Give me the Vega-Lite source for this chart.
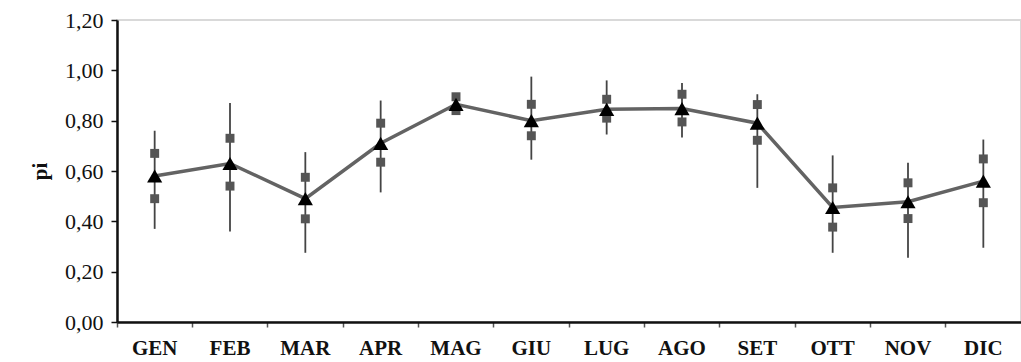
{
  "$schema": "https://vega.github.io/schema/vega-lite/v6.json",
  "autosize": "none",
  "width": 904,
  "height": 302,
  "padding": {"left": 117, "top": 20, "right": 0, "bottom": 40},
  "background": "white",
  "config": {
    "view": {"stroke": "#d9d9d9", "strokeWidth": 2},
    "font": "Liberation Serif"
  },
  "data": {
    "values": [
      {"mese": "GEN", "media": 0.58, "q1": 0.49, "q3": 0.67, "min": 0.37, "max": 0.76},
      {"mese": "FEB", "media": 0.63, "q1": 0.54, "q3": 0.73, "min": 0.36, "max": 0.87},
      {"mese": "MAR", "media": 0.49, "q1": 0.41, "q3": 0.575, "min": 0.275, "max": 0.675},
      {"mese": "APR", "media": 0.71, "q1": 0.635, "q3": 0.79, "min": 0.515, "max": 0.88},
      {"mese": "MAG", "media": 0.865, "q1": 0.84, "q3": 0.895, "min": 0.83, "max": 0.905},
      {"mese": "GIU", "media": 0.80, "q1": 0.74, "q3": 0.865, "min": 0.645, "max": 0.975},
      {"mese": "LUG", "media": 0.845, "q1": 0.81, "q3": 0.885, "min": 0.745, "max": 0.96},
      {"mese": "AGO", "media": 0.848, "q1": 0.795, "q3": 0.905, "min": 0.733, "max": 0.95},
      {"mese": "SET", "media": 0.79, "q1": 0.722, "q3": 0.864, "min": 0.533, "max": 0.905},
      {"mese": "OTT", "media": 0.455, "q1": 0.377, "q3": 0.533, "min": 0.275, "max": 0.662},
      {"mese": "NOV", "media": 0.478, "q1": 0.411, "q3": 0.553, "min": 0.255, "max": 0.633},
      {"mese": "DIC", "media": 0.56, "q1": 0.474, "q3": 0.648, "min": 0.295, "max": 0.725}
    ]
  },
  "encoding": {
    "x": {
      "field": "mese", "type": "nominal", "sort": null,
      "scale": {"paddingInner": 0, "paddingOuter": 0},
      "axis": {
        "title": null, "labelAngle": 0, "bandPosition": 0,
        "labelFont": "Liberation Serif", "labelFontWeight": "bold", "labelFontSize": 21,
        "labelColor": "#111", "domainColor": "#111", "domainWidth": 2.5,
        "tickColor": "#555", "tickSize": 5, "tickWidth": 1.5, "labelPadding": 10,
        "labelAlign": "center"
      }
    }
  },
  "layer": [
    {
      "mark": {"type": "rule", "color": "#444", "strokeWidth": 1.8},
      "encoding": {
        "y": {"field": "min", "type": "quantitative"},
        "y2": {"field": "max"}
      }
    },
    {
      "mark": {"type": "line", "color": "#636363", "strokeWidth": 3.5},
      "encoding": {
        "y": {
          "field": "media", "type": "quantitative",
          "scale": {"domain": [0, 1.2], "nice": false, "zero": true},
          "axis": {
            "title": "pi", "values": [0, 0.2, 0.4, 0.6, 0.8, 1.0, 1.2],
            "labelExpr": "replace(format(datum.value, '.2f'), '.', ',')",
            "grid": false, "labelFont": "Liberation Serif", "labelFontSize": 22,
            "labelColor": "#111", "domainColor": "#111", "domainWidth": 2.5,
            "tickColor": "#111", "tickSize": 6, "tickWidth": 1.5, "labelPadding": 8,
            "titleFont": "Liberation Serif", "titleFontSize": 21, "titleFontWeight": "bold",
            "titleColor": "#111", "titlePadding": 14
          }
        }
      }
    },
    {
      "mark": {"type": "point", "shape": "square", "filled": true, "color": "#555", "size": 80, "opacity": 1},
      "encoding": {"y": {"field": "q1", "type": "quantitative"}}
    },
    {
      "mark": {"type": "point", "shape": "square", "filled": true, "color": "#555", "size": 80, "opacity": 1},
      "encoding": {"y": {"field": "q3", "type": "quantitative"}}
    },
    {
      "mark": {"type": "point", "shape": "triangle-up", "filled": true, "color": "#000", "size": 230, "opacity": 1},
      "encoding": {"y": {"field": "media", "type": "quantitative"}}
    }
  ]
}
